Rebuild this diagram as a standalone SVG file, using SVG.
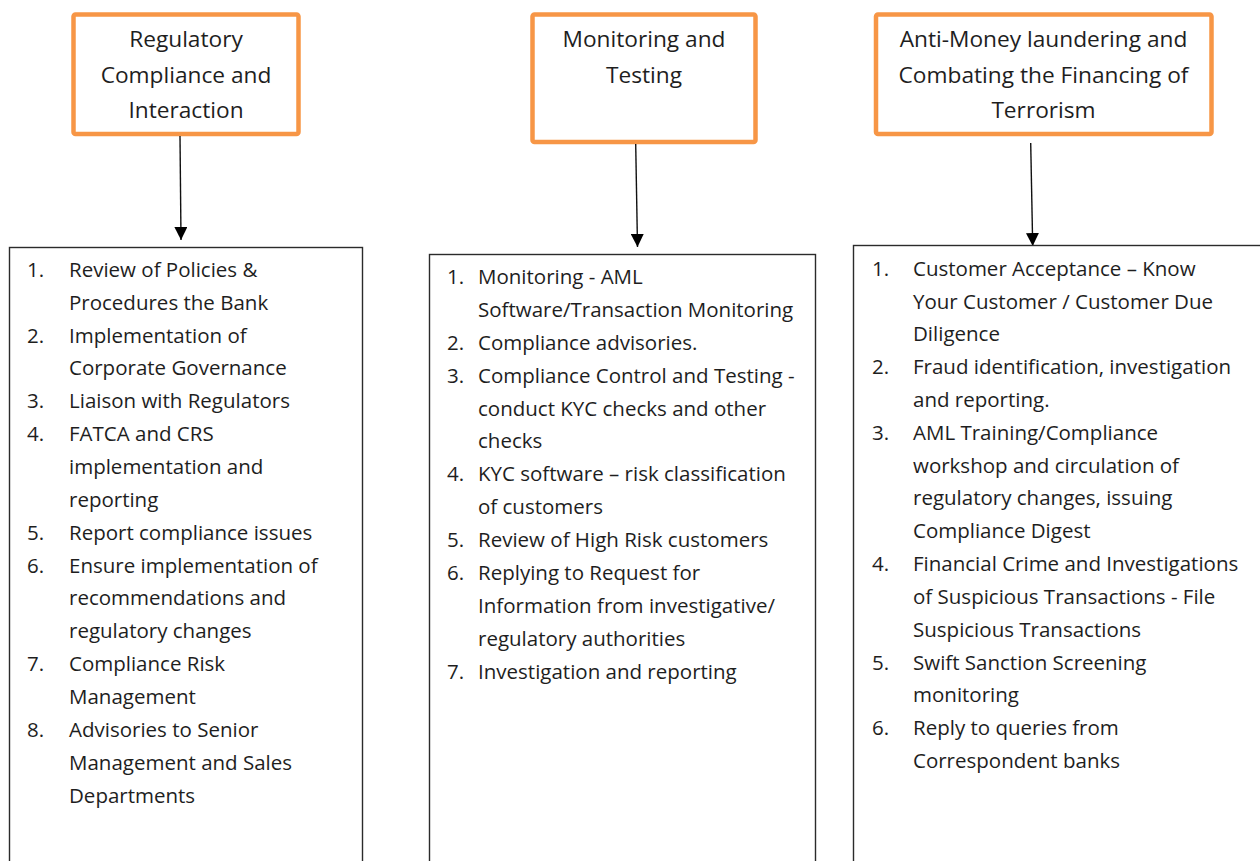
<svg xmlns="http://www.w3.org/2000/svg" width="1260" height="861" viewBox="0 0 1260 861">
<style>
.head{fill:#fff;stroke:#F79646;stroke-width:4.5}
.list{fill:#fff;stroke:#2b2b2b;stroke-width:1.4}
text{font-family:"Open Sans","Noto Sans",sans-serif;font-size:20.5px;fill:#1e1e1e}
.c{text-anchor:middle;font-size:22.7px}
.conn{stroke:#111;stroke-width:1.4;fill:none}
</style>
<defs>
<marker id="arr" viewBox="0 0 10 10" refX="10" refY="5" markerWidth="13" markerHeight="13" markerUnits="userSpaceOnUse" orient="auto">
<path d="M0,0 L10,5 L0,10 z" fill="#000"/>
</marker>
</defs>
<rect width="1260" height="861" fill="#fff"/>

<g id="head1">
<rect class="head" x="73.5" y="14.5" width="225" height="119.5" rx="2"/>
<text class="c" x="186" y="47">Regulatory</text>
<text class="c" x="186" y="83">Compliance and</text>
<text class="c" x="186" y="118">Interaction</text>
</g>
<g id="head2">
<rect class="head" x="532.5" y="14.5" width="223" height="127.5" rx="2"/>
<text class="c" x="644" y="47">Monitoring and</text>
<text class="c" x="644" y="83">Testing</text>
</g>
<g id="head3">
<rect class="head" x="876" y="14.5" width="335.5" height="119.5" rx="2"/>
<text class="c" x="1043.5" y="47">Anti-Money laundering and</text>
<text class="c" x="1043.5" y="83">Combating the Financing of</text>
<text class="c" x="1043.5" y="118">Terrorism</text>
</g>

<g id="connectors">
<path class="conn" d="M180,136 L181,240" marker-end="url(#arr)"/>
<path class="conn" d="M635.7,144 L637.5,247" marker-end="url(#arr)"/>
<path class="conn" d="M1030.7,143 L1032.7,246" marker-end="url(#arr)"/>
</g>

<g id="list1">
<rect class="list" x="9.5" y="247.5" width="353" height="630"/>
<text x="27" y="277">1.</text><text x="69" y="277">Review of Policies &amp;</text>
<text x="69" y="310">Procedures the Bank</text>
<text x="27" y="343">2.</text><text x="69" y="343">Implementation of</text>
<text x="69" y="375">Corporate Governance</text>
<text x="27" y="408">3.</text><text x="69" y="408">Liaison with Regulators</text>
<text x="27" y="441">4.</text><text x="69" y="441">FATCA and CRS</text>
<text x="69" y="474">implementation and</text>
<text x="69" y="507">reporting</text>
<text x="27" y="540">5.</text><text x="69" y="540">Report compliance issues</text>
<text x="27" y="573">6.</text><text x="69" y="573">Ensure implementation of</text>
<text x="69" y="605">recommendations and</text>
<text x="69" y="638">regulatory changes</text>
<text x="27" y="671">7.</text><text x="69" y="671">Compliance Risk</text>
<text x="69" y="704">Management</text>
<text x="27" y="737">8.</text><text x="69" y="737">Advisories to Senior</text>
<text x="69" y="770">Management and Sales</text>
<text x="69" y="803">Departments</text>
</g>

<g id="list2">
<rect class="list" x="429.5" y="254.5" width="386" height="630"/>
<text x="447" y="284">1.</text><text x="478" y="284">Monitoring - AML</text>
<text x="478" y="317">Software/Transaction Monitoring</text>
<text x="447" y="350">2.</text><text x="478" y="350">Compliance advisories.</text>
<text x="447" y="383">3.</text><text x="478" y="383">Compliance Control and Testing -</text>
<text x="478" y="416">conduct KYC checks and other</text>
<text x="478" y="448">checks</text>
<text x="447" y="481">4.</text><text x="478" y="481">KYC software – risk classification</text>
<text x="478" y="514">of customers</text>
<text x="447" y="547">5.</text><text x="478" y="547">Review of High Risk customers</text>
<text x="447" y="580">6.</text><text x="478" y="580">Replying to Request for</text>
<text x="478" y="613">Information from investigative/</text>
<text x="478" y="646">regulatory authorities</text>
<text x="447" y="679">7.</text><text x="478" y="679">Investigation and reporting</text>
</g>

<g id="list3">
<rect class="list" x="853.5" y="245.5" width="420" height="630"/>
<text x="872" y="276">1.</text><text x="913" y="276">Customer Acceptance – Know</text>
<text x="913" y="309">Your Customer / Customer Due</text>
<text x="913" y="341">Diligence</text>
<text x="872" y="374">2.</text><text x="913" y="374">Fraud identification, investigation</text>
<text x="913" y="407">and reporting.</text>
<text x="872" y="440">3.</text><text x="913" y="440">AML Training/Compliance</text>
<text x="913" y="473">workshop and circulation of</text>
<text x="913" y="505">regulatory changes, issuing</text>
<text x="913" y="538">Compliance Digest</text>
<text x="872" y="571">4.</text><text x="913" y="571">Financial Crime and Investigations</text>
<text x="913" y="604">of Suspicious Transactions - File</text>
<text x="913" y="637">Suspicious Transactions</text>
<text x="872" y="670">5.</text><text x="913" y="670">Swift Sanction Screening</text>
<text x="913" y="702">monitoring</text>
<text x="872" y="735">6.</text><text x="913" y="735">Reply to queries from</text>
<text x="913" y="768">Correspondent banks</text>
</g>
</svg>
